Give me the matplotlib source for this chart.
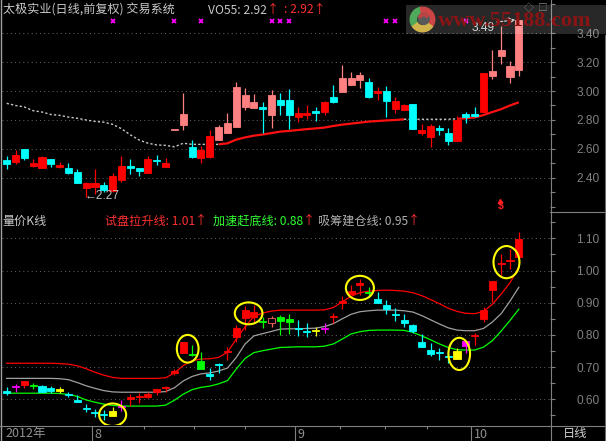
"""
太极实业 daily chart with the 交易系统 overlay and the 量价K线 sub-panel
"""

import numpy as np
import matplotlib.pyplot as plt
from matplotlib.lines import Line2D
from matplotlib.patches import Ellipse, Rectangle, Wedge, Circle

plt.rcParams['font.family'] = ['Noto Sans CJK SC', 'DejaVu Sans']

W, H = 606, 441

# ---- upper panel: price candles, 59 trading days ----
price_open = [2.524, 2.513, 2.600, 2.485, 2.471, 2.531, 2.476, 2.467, 2.439, 2.329,
              2.336, 2.352, 2.310, 2.386, 2.485, 2.467, 2.437, 2.524, 2.478, 2.731,
              2.766, 2.616, 2.536, 2.547, 2.662, 2.708, 2.754, 2.892, 2.880, 2.887,
              2.835, 2.938, 2.938, 2.823, 2.835, 2.862, 2.857, 2.956, 2.995, 3.041,
              3.076, 3.060, 2.988, 3.000, 2.876, 2.869, 2.908, 2.708, 2.685, 2.742,
              2.708, 2.657, 2.839, 2.839, 2.853, 3.106, 3.244, 3.099, 3.145]
price_close = [2.497, 2.559, 2.536, 2.503, 2.547, 2.494, 2.490, 2.432, 2.368, 2.368,
               2.368, 2.317, 2.416, 2.485, 2.467, 2.450, 2.531, 2.515, 2.503, 2.731,
               2.841, 2.547, 2.593, 2.690, 2.754, 2.782, 3.030, 2.972, 2.922, 2.876,
               2.972, 2.903, 2.835, 2.846, 2.851, 2.846, 2.922, 2.922, 3.087, 3.087,
               3.110, 2.961, 3.000, 2.933, 2.931, 2.903, 2.736, 2.731, 2.759, 2.731,
               2.657, 2.800, 2.823, 2.828, 3.122, 3.138, 3.283, 3.172, 3.490]
price_high = [2.552, 2.593, 2.600, 2.531, 2.552, 2.531, 2.513, 2.501, 2.462, 2.375,
              2.462, 2.375, 2.432, 2.554, 2.531, 2.467, 2.552, 2.559, 2.540, 2.731,
              2.984, 2.662, 2.620, 2.731, 2.766, 2.850, 3.064, 3.020, 2.980, 2.926,
              3.007, 2.984, 3.014, 2.887, 2.903, 2.892, 2.933, 3.041, 3.179, 3.133,
              3.133, 3.087, 3.025, 3.034, 2.956, 2.910, 2.908, 2.770, 2.770, 2.765,
              2.742, 2.828, 2.858, 2.887, 3.126, 3.283, 3.450, 3.207, 3.490]
price_low = [2.460, 2.497, 2.524, 2.474, 2.467, 2.478, 2.467, 2.425, 2.363, 2.270,
             2.290, 2.306, 2.306, 2.375, 2.425, 2.416, 2.437, 2.490, 2.478, 2.731,
             2.731, 2.540, 2.505, 2.536, 2.662, 2.708, 2.754, 2.869, 2.880, 2.708,
             2.742, 2.835, 2.736, 2.788, 2.805, 2.793, 2.835, 2.915, 2.995, 3.041,
             3.023, 2.954, 2.938, 2.823, 2.846, 2.869, 2.736, 2.696, 2.612, 2.696,
             2.628, 2.657, 2.777, 2.818, 2.846, 3.083, 3.186, 3.057, 3.104]
# c = cyan, r = red, p = pink
price_color = "crcrrcrccr" "rcrrccrcrp" "pcrrpppppc" "pccrrcrcpp" "pcrcrrcrrc" "crccrpppp"

ma_line = [2.915, 2.900, 2.890, 2.864, 2.855, 2.838, 2.832, 2.820, 2.812, 2.800,
           2.790, 2.785, 2.770, 2.740, 2.698, 2.662, 2.640, 2.628, 2.625, 2.615,
           2.640, 2.632, 2.632, 2.632, 2.632, 2.639, 2.665, 2.680, 2.692, 2.700,
           2.710, 2.720, 2.725, 2.731, 2.737, 2.742, 2.748, 2.759, 2.768, 2.775,
           2.782, 2.789, 2.793, 2.797, 2.800, 2.805, 2.805, 2.805, 2.805, 2.805,
           2.805, 2.808, 2.812, 2.818, 2.834, 2.855, 2.875, 2.900, 2.922]
ma_red_spans = [(24, 45), (51, 58)]
ma_dash_spans = [(0, 24), (45, 51)]

signal_days = [12, 19, 22, 30, 31, 32, 43, 44, 52]
signal_level = 3.483

# ---- lower panel: 量价K线 ----
vk_open = [0.626, 0.637, 0.657, 0.642, 0.640, 0.634, 0.631, 0.616, 0.598, 0.572,
           0.556, 0.552, 0.565, 0.576, 0.606, 0.608, 0.616, 0.632, 0.634, 0.689,
           0.779, 0.738, 0.720, 0.679, 0.710, 0.751, 0.820, 0.877, 0.872, 0.844,
           0.852, 0.855, 0.848, 0.818, 0.812, 0.815, 0.822, 0.859, 0.905, 0.937,
           0.960, 0.934, 0.912, 0.893, 0.862, 0.846, 0.831, 0.779, 0.753, 0.746,
           0.732, 0.751, 0.781, 0.797, 0.877, 0.968, 1.022, 1.031, 1.097]
vk_close = [0.621, 0.637, 0.645, 0.640, 0.624, 0.627, 0.627, 0.613, 0.593, 0.569,
            0.556, 0.551, 0.548, 0.576, 0.602, 0.608, 0.606, 0.622, 0.634, 0.681,
            0.743, 0.738, 0.693, 0.672, 0.707, 0.748, 0.795, 0.851, 0.857, 0.841,
            0.838, 0.843, 0.839, 0.818, 0.809, 0.812, 0.819, 0.855, 0.900, 0.927,
            0.955, 0.931, 0.900, 0.881, 0.862, 0.838, 0.812, 0.763, 0.740, 0.743,
            0.732, 0.725, 0.767, 0.797, 0.850, 0.940, 1.019, 1.028, 1.043]
vk_high = [0.637, 0.648, 0.657, 0.652, 0.645, 0.640, 0.637, 0.624, 0.613, 0.585,
           0.569, 0.566, 0.575, 0.598, 0.616, 0.621, 0.623, 0.632, 0.642, 0.693,
           0.779, 0.769, 0.748, 0.696, 0.712, 0.763, 0.831, 0.890, 0.893, 0.857,
           0.860, 0.862, 0.865, 0.846, 0.836, 0.826, 0.836, 0.869, 0.921, 0.955,
           0.973, 0.950, 0.934, 0.908, 0.883, 0.865, 0.834, 0.803, 0.774, 0.758,
           0.748, 0.758, 0.781, 0.805, 0.888, 0.968, 1.051, 1.067, 1.121]
vk_low = [0.613, 0.624, 0.634, 0.632, 0.624, 0.621, 0.619, 0.608, 0.593, 0.562,
          0.546, 0.536, 0.548, 0.565, 0.579, 0.590, 0.603, 0.613, 0.624, 0.676,
          0.743, 0.735, 0.693, 0.660, 0.683, 0.722, 0.779, 0.815, 0.836, 0.820,
          0.825, 0.800, 0.803, 0.797, 0.792, 0.797, 0.805, 0.838, 0.881, 0.927,
          0.924, 0.919, 0.900, 0.865, 0.844, 0.826, 0.806, 0.763, 0.735, 0.722,
          0.712, 0.725, 0.745, 0.769, 0.841, 0.903, 0.986, 1.004, 1.043]
# c cyan, m magenta, r red, g green, y yellow, h hollow
vk_color = "cmrgccyccc" "ccymrrrrrr" "rggccrrrrg" "hggccymrrr" "rgcccccccc" "cymrrrrrr"

line_pull = [0.712, 0.712, 0.712, 0.712, 0.712, 0.712, 0.711, 0.709, 0.704, 0.695,
             0.684, 0.675, 0.668, 0.665, 0.665, 0.665, 0.665, 0.665, 0.667, 0.682,
             0.705, 0.720, 0.725, 0.726, 0.730, 0.746, 0.787, 0.825, 0.858, 0.868,
             0.874, 0.877, 0.877, 0.877, 0.877, 0.877, 0.878, 0.885, 0.903, 0.920,
             0.931, 0.936, 0.938, 0.939, 0.938, 0.936, 0.931, 0.922, 0.910, 0.897,
             0.883, 0.873, 0.867, 0.866, 0.873, 0.895, 0.927, 0.962, 1.010]
line_build = [0.665, 0.665, 0.665, 0.665, 0.665, 0.665, 0.664, 0.661, 0.652, 0.642,
              0.634, 0.627, 0.623, 0.622, 0.622, 0.622, 0.622, 0.622, 0.624, 0.636,
              0.657, 0.671, 0.679, 0.682, 0.688, 0.697, 0.730, 0.772, 0.797, 0.804,
              0.811, 0.818, 0.819, 0.819, 0.820, 0.821, 0.826, 0.835, 0.850, 0.864,
              0.872, 0.875, 0.877, 0.877, 0.877, 0.875, 0.871, 0.860, 0.847, 0.834,
              0.822, 0.815, 0.813, 0.813, 0.820, 0.840, 0.866, 0.905, 0.948]
line_bottom = [0.619, 0.619, 0.619, 0.619, 0.619, 0.619, 0.618, 0.615, 0.609, 0.598,
               0.591, 0.585, 0.581, 0.579, 0.579, 0.579, 0.579, 0.579, 0.582, 0.597,
               0.616, 0.630, 0.637, 0.641, 0.648, 0.658, 0.694, 0.727, 0.745, 0.751,
               0.756, 0.761, 0.762, 0.763, 0.763, 0.763, 0.765, 0.772, 0.787, 0.803,
               0.810, 0.814, 0.815, 0.815, 0.815, 0.814, 0.808, 0.797, 0.785, 0.772,
               0.761, 0.754, 0.753, 0.753, 0.762, 0.782, 0.812, 0.845, 0.880]

# yellow rings on the lower panel (centre day, centre value, width in days, height)
ring_day = [12.0, 20.5, 27.4, 40.0, 51.25, 56.6]
ring_val = [0.552, 0.757, 0.867, 0.946, 0.741, 1.026]
ring_w = [3.06, 2.46, 3.13, 3.17, 2.45, 2.94]
ring_h = [0.070, 0.086, 0.068, 0.075, 0.100, 0.100]

# date strip
month_pos = [9.7, 32.7, 52.6]
month_lab = ['8', '9', '10']
week_pos = [15.5, 21.2, 27.0, 37.7, 42.8, 47.6]

price_ticks = [3.40, 3.20, 3.00, 2.80, 2.60, 2.40]
vk_ticks = [1.10, 1.00, 0.90, 0.80, 0.70, 0.60]

X0, X1 = -0.53, 61.53
GRAY = '#808080'
TXT = '#c8c8c8'
RED = '#ff3030'
NUM_FONT = ['Liberation Sans', 'DejaVu Sans']


def fx(px):
    return px / W


def fy(py):
    return 1 - py / H


def style_panel(ax, ylim, majors, minors):
    ax.set_facecolor('black')
    ax.set_xlim(X0, X1)
    ax.set_ylim(*ylim)
    for s in ax.spines.values():
        s.set_visible(False)
    ax.yaxis.tick_right()
    ax.set_yticks(majors)
    ax.set_yticklabels([f'{v:.2f}' for v in majors], fontfamily=NUM_FONT)
    ax.set_yticks(minors, minor=True)
    ax.tick_params(axis='y', which='both', colors=GRAY, length=3.6, width=0.8,
                   direction='out', pad=15.4, labelsize=8.6)
    ax.tick_params(axis='x', which='both', bottom=False, labelbottom=False)
    for v in majors:
        ax.axhline(v, color='#5c5c5c', lw=0.75, ls=(0, (1, 3)), zorder=1)


def draw_candles(ax, opens, closes, highs, lows, codes, palette, min_h):
    x = np.arange(len(opens))
    opens = np.asarray(opens)
    closes = np.asarray(closes)
    cols = [palette[k] for k in codes]
    ax.vlines(x, lows, highs, colors=cols, linewidth=0.9, zorder=3)
    bottom = np.minimum(opens, closes)
    height = np.maximum(np.abs(closes - opens), min_h)
    faces = ['black' if k == 'h' else c for k, c in zip(codes, cols)]
    ax.bar(x, height, width=0.8, bottom=bottom, color=faces, edgecolor=cols,
           linewidth=0.6, zorder=4)


def text_run(x_px, y_px, pieces, size=8.7):
    renderer = fig.canvas.get_renderer()
    for s, col in pieces:
        t = fig.text(fx(x_px), fy(y_px), s, color=col, fontsize=size,
                     ha='left', va='center')
        x_px += t.get_window_extent(renderer).width


def fig_line(xs, ys, color=GRAY, lw=0.8):
    fig.add_artist(Line2D([fx(v) for v in xs], [fy(v) for v in ys],
                          color=color, lw=lw, zorder=5))


fig = plt.figure(figsize=(W / 100, H / 100), dpi=100, facecolor='black')

ax1 = fig.add_axes([fx(2), fy(211), 548 / W, 211 / H])
ax2 = fig.add_axes([fx(2), fy(425), 548 / W, 212 / H])
ax3 = fig.add_axes([fx(2), 0, 548 / W, 15 / H])

# upper panel
style_panel(ax1, (2.1724, 3.6276), price_ticks, np.arange(2.2, 3.65, 0.1))
days = np.arange(len(ma_line))
ma = np.array(ma_line)
for a, b in ma_dash_spans:
    ax1.plot(days[a:b + 1], ma[a:b + 1], color='#c8c8c8', lw=1.0,
             ls=(0, (1.6, 1.6)), zorder=2)
for a, b in ma_red_spans:
    ax1.plot(days[a:b + 1], ma[a:b + 1], color='#ff1010', lw=1.6, zorder=2,
             solid_capstyle='butt')
draw_candles(ax1, price_open, price_close, price_high, price_low, price_color,
             {'c': '#00ffff', 'r': '#ff0000', 'p': '#ff8080'}, 0.007)
ax1.plot(signal_days, [signal_level] * len(signal_days), ls='none', marker='x',
         ms=3.2, mew=1.3, color='#ff00ff', zorder=5)

low_day = int(np.argmin(price_low))
ax1.text(low_day - 0.15, min(price_low) + 0.008, '\u2190' + f'{min(price_low):.2f}',
         color='#c0c0c0', fontsize=8.6, fontfamily=NUM_FONT, ha='left', va='center',
         zorder=6)
top_day = int(np.argmax(price_high))
ax1.text(52.7, 3.434, f'{max(price_high):.2f}', color='#d0d0d0', fontsize=8.6,
         fontfamily=NUM_FONT, ha='left', va='center', zorder=6)
ax1.annotate('', xy=(top_day - 0.4, max(price_high)), xytext=(55.5, 3.476),
             arrowprops=dict(arrowstyle='->', color='#d0d0d0', lw=0.8,
                             linestyle=(0, (2, 1.5)), shrinkA=0, shrinkB=0),
             zorder=6)
ax1.plot([55.9], [2.242], ls='none', marker='^', ms=3, color='#ff2020', zorder=6)
ax1.text(55.9, 2.205, '$', color='#ff2020', fontsize=7.5, fontweight='bold',
         fontfamily=NUM_FONT, ha='center', va='center', zorder=6)

# lower panel
style_panel(ax2, (0.5202, 1.1786), vk_ticks, np.arange(0.55, 1.16, 0.05))
vd = np.arange(len(line_pull))
ax2.plot(vd, line_pull, color='#ff0000', lw=0.9, zorder=2)
ax2.plot(vd, line_build, color='#a0a0a0', lw=0.9, zorder=2)
ax2.plot(vd, line_bottom, color='#00ff00', lw=0.9, zorder=2)
draw_candles(ax2, vk_open, vk_close, vk_high, vk_low, vk_color,
             {'c': '#00ffff', 'm': '#ff00ff', 'r': '#ff0000', 'g': '#00ff00',
              'y': '#ffff00', 'h': '#ff6060'}, 0.0031)
for d, v, w, h in zip(ring_day, ring_val, ring_w, ring_h):
    ax2.add_patch(Ellipse((d, v), w, h, fill=False, edgecolor='#ffff00',
                          lw=1.5, zorder=6))

# date strip
ax3.set_facecolor('black')
ax3.set_xlim(X0, X1)
ax3.set_ylim(0, 1)
ax3.axis('off')
ax3.vlines(month_pos, 0, 1, color=GRAY, lw=0.8)
ax3.vlines(week_pos, 0.8, 1, color=GRAY, lw=0.8)
for p, lab in zip(month_pos, month_lab):
    ax3.text(p + 0.28, 0.45, lab, color='#909090', fontsize=9,
             ha='left', va='center')
fig.text(fx(5), fy(433), '2012年', color='#909090', fontsize=9, ha='left', va='center')
fig.text(fx(563), fy(433), '日线', color='#d0d0d0', fontsize=8.8, ha='left', va='center')

# frame lines
fig_line([1, 1], [0, 441], color='#a0a0a0', lw=1.0)
fig_line([550.5, 550.5], [0, 441])
fig_line([0, 606], [425.5, 425.5])
fig_line([550, 606], [212, 212])
fig_line([604.5, 604.5], [35, 441], color='#6a6a6a', lw=0.8)

# titles
text_run(3, 10, [('太极实业(日线,前复权) 交易系统', TXT)])
text_run(208, 10, [('VO55: 2.92', TXT), ('↑', RED)])
text_run(284, 10, [(': 2.92↑', RED)])
text_run(2, 221, [('量价K线', TXT)])
text_run(105, 221, [('试盘拉升线: 1.01', RED), ('↑', RED)])
text_run(213, 221, [('加速赶底线: 0.88', '#30ff30'), ('↑', RED)])
text_run(318, 221, [('吸筹建仓线: 0.95', '#b0b0b0'), ('↑', RED)])

# watermark box with logo
fig.add_artist(Rectangle((fx(406), fy(34)), 200 / W, 29 / H, transform=fig.transFigure,
                         facecolor='white', alpha=0.16, edgecolor='none', zorder=8))
fig.text(fx(438), fy(21), 'www.55188.com', color='#8a1414', fontsize=16,
         fontweight='bold', fontfamily=['Liberation Serif', 'DejaVu Serif'],
         ha='left', va='center', zorder=9)
logo = fig.add_axes([fx(409), fy(33), 27 / W, 27 / H])
logo.set_xlim(-1.1, 1.1)
logo.set_ylim(-1.1, 1.1)
logo.axis('off')
logo.add_patch(Wedge((0, 0), 1, 100, 215, width=0.5, color='#2f9a3c'))
logo.add_patch(Wedge((0, 0), 1, -35, 100, width=0.5, color='#c42222'))
logo.add_patch(Wedge((0, 0), 1, 215, 325, width=0.5, color='#c9a62a'))
logo.add_patch(Circle((0.1, 0.05), 0.45, color='#3a3a3a'))
logo.add_patch(Wedge((0.1, 0.05), 0.45, 30, 160, width=0.2, color='#b02020'))
fig.text(fx(529), fy(8), '◇', color=GRAY, fontsize=7, ha='center', va='center', zorder=9)
fig.text(fx(543), fy(8), '□', color=GRAY, fontsize=7, ha='center', va='center', zorder=9)

fig.savefig('out.png', dpi=100, facecolor='black')
